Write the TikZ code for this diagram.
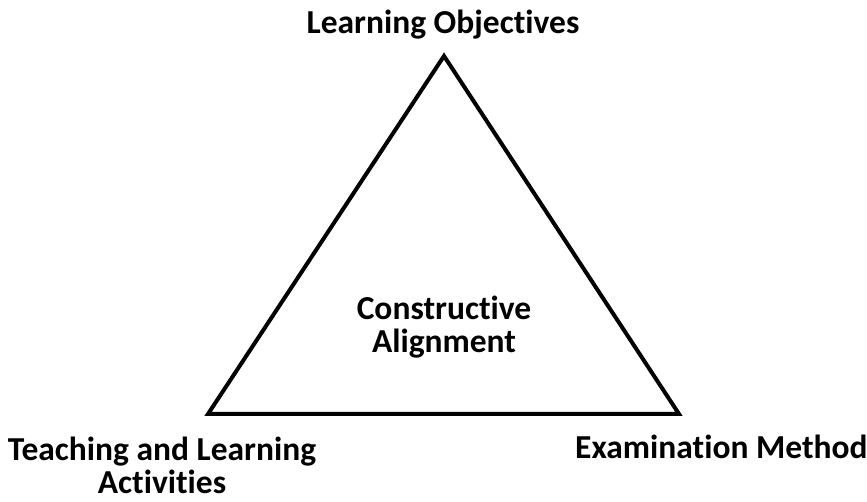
\documentclass[tikz,border=0pt]{standalone}
\usepackage{fontspec}
\setmainfont[Ligatures=NoCommon]{Carlito}
\usepackage{tikz}

\begin{document}
\begin{tikzpicture}[
      x=1pt, y=1pt,
      every node/.style={inner sep=0pt, align=center,
        font=\bfseries\fontsize{33.5}{33}\selectfont},
      side/.style={line width=4pt, line join=miter}]
        \useasboundingbox (0,0) rectangle (867,502);

        % corners
        \coordinate (top) at (444,446);
        \coordinate (left) at (208,88);
        \coordinate (right) at (679,88);

        \draw[side] (top) -- (right) -- (left) -- cycle;

        \node[anchor=base] (objectives) at (443,468) {Learning Objectives};
        \node (alignment) at (444,175) {Constructive\\Alignment};
        \node (activities) at (162,37) {Teaching and Learning\\Activities};
        \node[anchor=base west] (examination) at (575,43) {Examination Method};

      \end{tikzpicture}
\end{document}
